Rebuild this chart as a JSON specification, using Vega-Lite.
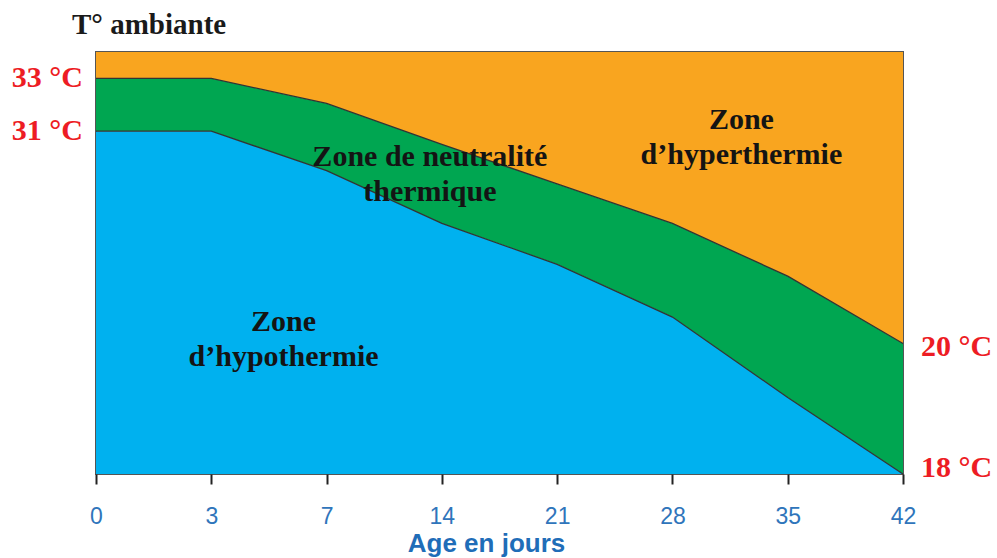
{
  "$schema": "https://vega.github.io/schema/vega-lite/v6.json",
  "width": 807,
  "height": 422,
  "autosize": {"type": "none"},
  "padding": {"left": 96, "top": 52, "right": 94, "bottom": 84},
  "background": "white",
  "title": {
    "text": "T° ambiante",
    "anchor": "start",
    "frame": "group",
    "dx": -24,
    "dy": 31,
    "offset": 20,
    "baseline": "alphabetic",
    "font": "Liberation Serif",
    "fontSize": 29,
    "fontWeight": "bold",
    "color": "#1a1a1a"
  },
  "config": {
    "view": {"stroke": "#555555", "strokeWidth": 2}
  },
  "datasets": {
    "zones": [
      {"age": 0, "top": 34, "upper": 33.0, "lower": 31.0, "bottom": 18},
      {"age": 3, "top": 34, "upper": 33.0, "lower": 31.0, "bottom": 18},
      {"age": 7, "top": 34, "upper": 32.05, "lower": 29.5, "bottom": 18},
      {"age": 14, "top": 34, "upper": 30.5, "lower": 27.5, "bottom": 18},
      {"age": 21, "top": 34, "upper": 29.0, "lower": 25.95, "bottom": 18},
      {"age": 28, "top": 34, "upper": 27.5, "lower": 23.95, "bottom": 18},
      {"age": 35, "top": 34, "upper": 25.5, "lower": 20.9, "bottom": 18},
      {"age": 42, "top": 34, "upper": 22.95, "lower": 18.0, "bottom": 18}
    ],
    "leftLabels": [
      {"age": 0, "temp": 33, "label": "33 °C"},
      {"age": 0, "temp": 31, "label": "31 °C"}
    ],
    "label20": [{"age": 42, "temp": 22.95, "label": "20 °C"}],
    "label18": [{"age": 42, "temp": 18, "label": "18 °C"}],
    "neutral": [{"age": 14, "temp": 30.02, "label": "Zone de neutralité\nthermique"}],
    "hypo": [{"age": 7, "temp": 23.76, "label": "Zone\nd’hypothermie"}],
    "hyper": [{"age": 28, "temp": 31.42, "label": "Zone\nd’hyperthermie"}]
  },
  "encoding": {
    "x": {
      "field": "age",
      "type": "ordinal",
      "scale": {"type": "point", "padding": 0},
      "axis": {
        "title": "Age en jours",
        "labelAngle": 0,
        "domain": false,
        "ticks": true,
        "tickSize": 10,
        "tickWidth": 2,
        "tickColor": "#222222",
        "labelFont": "Liberation Sans",
        "labelFontSize": 23,
        "labelColor": "#2F75BB",
        "labelBaseline": "alphabetic",
        "labelPadding": 39,
        "titleFont": "Liberation Sans",
        "titleFontSize": 26,
        "titleFontWeight": "bold",
        "titleColor": "#1F6DB8",
        "titleBaseline": "alphabetic",
        "titleAlign": "center",
        "titleAnchor": "start",
        "titleX": 390,
        "titleY": 77,
        "grid": false
      }
    }
  },
  "layer": [
    {
      "data": {"name": "zones"},
      "mark": {"type": "area", "color": "#F9A51F"},
      "encoding": {
        "y": {"field": "top", "type": "quantitative", "scale": {"domain": [18, 34], "nice": false, "zero": false}, "axis": null},
        "y2": {"field": "upper"}
      }
    },
    {
      "data": {"name": "zones"},
      "mark": {"type": "area", "color": "#00A651"},
      "encoding": {
        "y": {"field": "upper", "type": "quantitative"},
        "y2": {"field": "lower"}
      }
    },
    {
      "data": {"name": "zones"},
      "mark": {"type": "area", "color": "#00B1EF"},
      "encoding": {
        "y": {"field": "lower", "type": "quantitative"},
        "y2": {"field": "bottom"}
      }
    },
    {
      "data": {"name": "zones"},
      "mark": {"type": "line", "color": "#333333", "strokeWidth": 1.3},
      "encoding": {"y": {"field": "upper", "type": "quantitative"}}
    },
    {
      "data": {"name": "zones"},
      "mark": {"type": "line", "color": "#333333", "strokeWidth": 1.3},
      "encoding": {"y": {"field": "lower", "type": "quantitative"}}
    },
    {
      "data": {"name": "leftLabels"},
      "mark": {"type": "text", "align": "right", "baseline": "middle", "dx": -13, "font": "Liberation Serif", "fontSize": 30, "fontWeight": "bold", "color": "#ED1C24"},
      "encoding": {
        "y": {"field": "temp", "type": "quantitative"},
        "text": {"field": "label"}
      }
    },
    {
      "data": {"name": "label20"},
      "mark": {"type": "text", "align": "left", "baseline": "middle", "dx": 18, "dy": 4, "font": "Liberation Serif", "fontSize": 30, "fontWeight": "bold", "color": "#ED1C24"},
      "encoding": {
        "y": {"field": "temp", "type": "quantitative"},
        "text": {"field": "label"}
      }
    },
    {
      "data": {"name": "label18"},
      "mark": {"type": "text", "align": "left", "baseline": "middle", "dx": 18, "dy": -6, "font": "Liberation Serif", "fontSize": 30, "fontWeight": "bold", "color": "#ED1C24"},
      "encoding": {
        "y": {"field": "temp", "type": "quantitative"},
        "text": {"field": "label"}
      }
    },
    {
      "data": {"name": "neutral"},
      "mark": {"type": "text", "align": "center", "baseline": "middle", "dx": -12, "lineBreak": "\n", "lineHeight": 35, "font": "Liberation Serif", "fontSize": 30, "fontWeight": "bold", "color": "#141414"},
      "encoding": {
        "y": {"field": "temp", "type": "quantitative"},
        "text": {"field": "label"}
      }
    },
    {
      "data": {"name": "hypo"},
      "mark": {"type": "text", "align": "center", "baseline": "middle", "dx": -43, "lineBreak": "\n", "lineHeight": 35, "font": "Liberation Serif", "fontSize": 30, "fontWeight": "bold", "color": "#141414"},
      "encoding": {
        "y": {"field": "temp", "type": "quantitative"},
        "text": {"field": "label"}
      }
    },
    {
      "data": {"name": "hyper"},
      "mark": {"type": "text", "align": "center", "baseline": "middle", "dx": 69, "lineBreak": "\n", "lineHeight": 35, "font": "Liberation Serif", "fontSize": 30, "fontWeight": "bold", "color": "#141414"},
      "encoding": {
        "y": {"field": "temp", "type": "quantitative"},
        "text": {"field": "label"}
      }
    }
  ]
}
